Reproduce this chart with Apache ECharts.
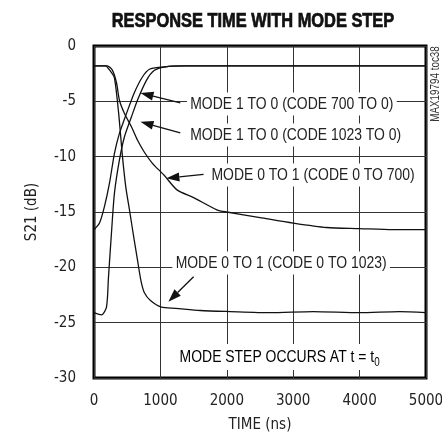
<!DOCTYPE html>
<html>
<head>
<meta charset="utf-8">
<script src="https://cdn.jsdelivr.net/npm/echarts@6/dist/echarts.min.js"></script>
<style>
  html, body { margin: 0; padding: 0; background: #fff; }
  #chart { width: 442px; height: 438px; }
</style>
</head>
<body>
<div id="chart"></div>
<script>
// axis ticks
const xTicks = [0, 1000, 2000, 3000, 4000, 5000];
const yTicks = [0, -5, -10, -15, -20, -25, -30];

// MODE 0 TO 1 (CODE 0 TO 700)
const fall700T = [0, 200, 278, 338, 383, 459, 564, 654, 759, 880, 1060, 1250, 1500, 1850, 2000, 2500, 3000, 3500, 4000, 4500, 5000];
const fall700Db = [-1.8, -1.8, -2.2, -3.3, -4.9, -6.1, -7.3, -8.5, -9.6, -10.6, -11.7, -13.0, -13.7, -14.8, -15.0, -15.5, -16.0, -16.4, -16.5, -16.6, -16.6];

// MODE 0 TO 1 (CODE 0 TO 1023)
const fall1023T = [0, 170, 250, 308, 370, 429, 480, 534, 594, 654, 710, 759, 850, 1015, 1230, 1600, 2050, 2650, 3300, 4000, 4600, 5000];
const fall1023Db = [-1.8, -1.8, -2.3, -2.9, -6.0, -10.0, -12.8, -14.8, -17.1, -19.3, -21.3, -22.3, -23.0, -23.6, -23.7, -23.9, -24.0, -24.1, -24.0, -24.1, -24.0, -24.1];

// MODE 1 TO 0 (CODE 700 TO 0)
const rise700T = [0, 83, 158, 233, 308, 383, 489, 609, 729, 835, 1015, 1300, 2000, 3000, 4000, 5000];
const rise700Db = [-16.6, -16.0, -14.5, -12.4, -9.7, -7.9, -6.1, -4.2, -2.8, -2.1, -1.9, -1.8, -1.8, -1.8, -1.8, -1.8];

// MODE 1 TO 0 (CODE 1023 TO 0)
const rise1023T = [0, 113, 188, 218, 263, 308, 383, 459, 564, 654, 790, 910, 1060, 1400, 2000, 3000, 4000, 5000];
const rise1023Db = [-24.1, -24.3, -23.6, -20.9, -16.9, -13.3, -10.3, -8.2, -6.4, -4.9, -3.1, -2.2, -1.9, -1.8, -1.8, -1.8, -1.8, -1.8];

// annotation labels: [text, t, dB] (left edge, middle)
const noteTexts = [
  ['MODE 1 TO 0 (CODE 700 TO 0)', 1400, -5.25],
  ['MODE 1 TO 0 (CODE 1023 TO 0)', 1400, -8.05],
  ['MODE 0 TO 1 (CODE 0 TO 700)', 1720, -11.65],
  ['MODE 0 TO 1 (CODE 0 TO 1023)', 1180, -19.6]
];
// arrows: [fromT, fromDb, tipT, tipDb]
const noteArrows = [
  [1300, -5.15, 700, -4.25],
  [1300, -7.85, 700, -6.85],
  [1650, -11.6, 1090, -11.95],
  [1500, -20.85, 1120, -23.1]
];

const NARROW = 'Liberation Sans, Arial, sans-serif';   // squeezed with scaleX
const COND = '"DejaVu Sans Condensed", "Liberation Sans Narrow", sans-serif';
const SQ = 0.82;

function pairs(t, v) {
  return t.map((x, i) => [x, v[i]]);
}

function curve(name, t, v) {
  return {
    name: name,
    type: 'line',
    data: pairs(t, v),
    symbol: 'none',
    smooth: 0.25,
    lineStyle: { color: '#111', width: 1.3 },
    z: 3
  };
}

const chart = echarts.init(document.getElementById('chart'));

chart.setOption({
  animation: false,
  grid: {
    left: 94, right: 16, top: 46, bottom: 60,
    show: true,
    borderColor: '#000',
    borderWidth: 3,
    outerBoundsMode: 'none'
  },
  xAxis: {
    type: 'value',
    min: xTicks[0],
    max: xTicks[xTicks.length - 1],
    interval: 1000,
    name: 'TIME (ns)',
    nameLocation: 'middle',
    nameGap: 40,
    nameTextStyle: { fontFamily: COND, fontSize: 15, color: '#222' },
    axisLine: { show: false },
    axisTick: { show: false },
    axisLabel: { fontFamily: COND, fontSize: 15, color: '#222', margin: 16, formatter: v => String(v) },
    splitLine: { show: true, lineStyle: { color: '#333', width: 1 } }
  },
  yAxis: {
    type: 'value',
    min: yTicks[yTicks.length - 1],
    max: yTicks[0],
    interval: 5,
    name: 'S21 (dB)',
    nameLocation: 'middle',
    nameGap: 54,
    nameTextStyle: { fontFamily: COND, fontSize: 15, color: '#222' },
    axisLine: { show: false },
    axisTick: { show: false },
    axisLabel: { fontFamily: COND, fontSize: 15, color: '#222', margin: 18, formatter: v => String(v) },
    splitLine: { show: true, lineStyle: { color: '#333', width: 1 } }
  },
  series: [
    curve('0 to 700', fall700T, fall700Db),
    curve('0 to 1023', fall1023T, fall1023Db),
    curve('700 to 0', rise700T, rise700Db),
    curve('1023 to 0', rise1023T, rise1023Db)
  ]
});

// annotations placed through the chart's own scales
function px(t, db) {
  return chart.convertToPixel({ gridIndex: 0 }, [t, db]);
}

const gfx = [];

gfx.push({
  type: 'text', x: 253, y: 21, scaleX: SQ, z: 20,
  style: {
    text: 'RESPONSE TIME WITH MODE STEP', font: 'bold 20px ' + NARROW, fill: '#111',
    stroke: '#111', lineWidth: 0.7,
    align: 'center', verticalAlign: 'middle'
  }
});

noteTexts.forEach(n => {
  const p = px(n[1], n[2]);
  gfx.push({
    type: 'text', x: p[0], y: p[1], scaleX: SQ, z: 20,
    style: {
      text: n[0], font: '17px ' + NARROW, fill: '#222',
      align: 'left', verticalAlign: 'middle',
      backgroundColor: '#fff', padding: [3, 4, 3, 4]
    }
  });
});

// step note with subscript
const stepPos = px(1240, -28.1);
gfx.push({
  type: 'text', x: stepPos[0], y: stepPos[1], scaleX: SQ, z: 20,
  style: {
    text: '{a|MODE STEP OCCURS AT t = t}{s|0}',
    align: 'left', verticalAlign: 'middle',
    backgroundColor: '#fff', padding: [1, 4, 1, 4],
    rich: {
      a: { fontFamily: NARROW, fontSize: 17, color: '#222', lineHeight: 24, verticalAlign: 'middle' },
      s: { fontFamily: NARROW, fontSize: 12, color: '#222', lineHeight: 24, verticalAlign: 'bottom' }
    }
  }
});

noteArrows.forEach(a => {
  const p0 = px(a[0], a[1]);
  const p1 = px(a[2], a[3]);
  const dx = p1[0] - p0[0], dy = p1[1] - p0[1];
  const len = Math.sqrt(dx * dx + dy * dy);
  const ux = dx / len, uy = dy / len;
  const hl = 13, hw = 4.5;
  const bx = p1[0] - ux * hl, by = p1[1] - uy * hl;
  gfx.push({
    type: 'line', z: 21,
    shape: { x1: p0[0], y1: p0[1], x2: bx, y2: by },
    style: { stroke: '#111', lineWidth: 1.3 }
  });
  gfx.push({
    type: 'polygon', z: 21,
    shape: { points: [[p1[0], p1[1]], [bx - uy * hw, by + ux * hw], [bx + uy * hw, by - ux * hw]] },
    style: { fill: '#111' }
  });
});

gfx.push({
  type: 'text', x: 436, y: 84, rotation: Math.PI / 2, scaleX: SQ, z: 20,
  style: { text: 'MAX19794 toc38', font: '12px ' + NARROW, fill: '#333', align: 'center', verticalAlign: 'middle' }
});

chart.setOption({ graphic: gfx });
</script>
</body>
</html>
